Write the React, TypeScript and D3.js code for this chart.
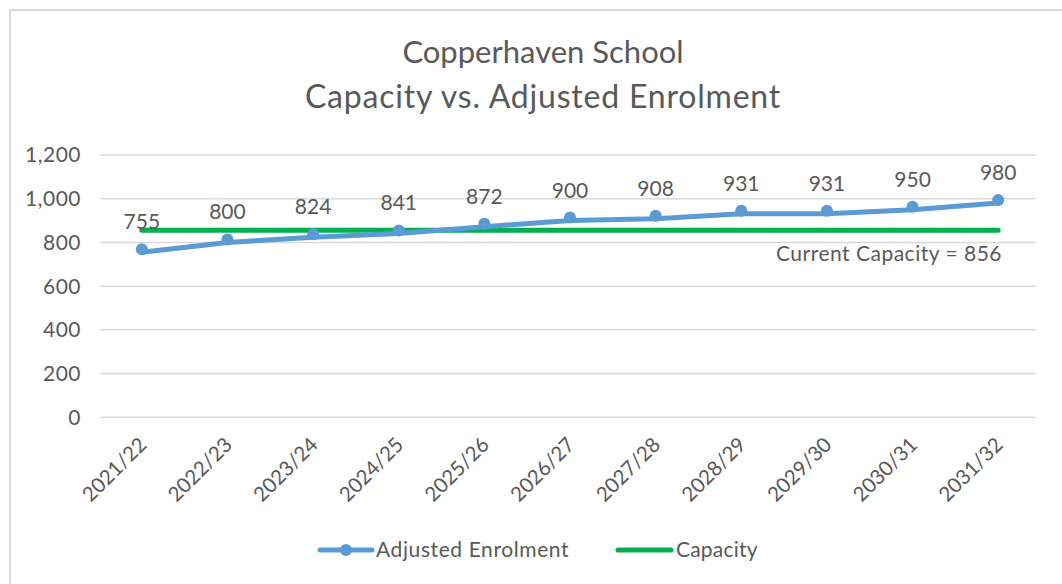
import React, { useEffect, useRef } from "react";
import * as d3 from "d3";

const categories = [
  "2021/22",
  "2022/23",
  "2023/24",
  "2024/25",
  "2025/26",
  "2026/27",
  "2027/28",
  "2028/29",
  "2029/30",
  "2030/31",
  "2031/32",
];
const enrolment = [755, 800, 824, 841, 872, 900, 908, 931, 931, 950, 980];
const capacity = [856, 856, 856, 856, 856, 856, 856, 856, 856, 856, 856];
const yTicks = [0, 200, 400, 600, 800, 1000, 1200];
const titleLines = ["Copperhaven School", "Capacity vs. Adjusted Enrolment"];
const capacityNote = "Current Capacity = 856";

const App = () => {
  const svgRef = useRef<SVGSVGElement>(null);

  useEffect(() => {
    const width = 1062;
    const height = 584;
    const font = "Lato, 'Open Sans', sans-serif";
    const textColor = "#595959";
    const blue = "#5b9bd5";
    const green = "#00b050";

    const svg = d3.select(svgRef.current);
    svg.selectAll("*").remove();
    svg.attr("width", width).attr("height", height);

    // chart frame (only top and left edges visible in the crop)
    svg
      .append("path")
      .attr("d", `M10,${height + 5} V10 H${width + 5}`)
      .attr("fill", "none")
      .attr("stroke", "#d9d9d9")
      .attr("stroke-width", 2);

    // title, two lines
    svg
      .append("g")
      .selectAll("text")
      .data(titleLines)
      .enter()
      .append("text")
      .attr("x", 543)
      .attr("y", (_, i) => 63 + i * 45)
      .attr("text-anchor", "middle")
      .attr("font-family", font)
      .attr("font-size", (_, i) => (i === 0 ? 31 : 32))
      .attr("letter-spacing", (_, i) => (i === 0 ? 0 : 0.8))
      .attr("fill", textColor)
      .text((d) => d);

    const plotLeft = 100;
    const plotRight = 1036;

    const x = d3
      .scaleBand()
      .domain(categories)
      .range([99, 1041])
      .padding(0);
    const cx = (c: string) => (x(c) as number) + x.bandwidth() / 2;

    const y = d3.scaleLinear().domain([0, 1200]).range([417.3, 155]);

    // gridlines
    svg
      .append("g")
      .selectAll("line")
      .data(yTicks)
      .enter()
      .append("line")
      .attr("x1", plotLeft)
      .attr("x2", plotRight)
      .attr("y1", (d) => y(d))
      .attr("y2", (d) => y(d))
      .attr("stroke", "#d9d9d9")
      .attr("stroke-width", 1.5);

    // y tick labels
    svg
      .append("g")
      .selectAll("text")
      .data(yTicks)
      .enter()
      .append("text")
      .attr("x", 81)
      .attr("y", (d) => y(d))
      .attr("dy", "0.35em")
      .attr("text-anchor", "end")
      .attr("font-family", font)
      .attr("font-size", 21)
      .attr("letter-spacing", 0.5)
      .attr("fill", textColor)
      .text((d) => d3.format(",")(d));

    // x tick labels, rotated
    svg
      .append("g")
      .selectAll("text")
      .data(categories)
      .enter()
      .append("text")
      .attr("transform", (d) => `translate(${cx(d) + 6},${446}) rotate(-45)`)
      .attr("text-anchor", "end")
      .attr("font-family", font)
      .attr("font-size", 20.5)
      .attr("fill", textColor)
      .text((d) => d);

    // capacity line
    const capLine = d3
      .line<number>()
      .x((_, i) => cx(categories[i]))
      .y((d) => y(d));
    svg
      .append("path")
      .datum(capacity)
      .attr("d", capLine)
      .attr("fill", "none")
      .attr("stroke", green)
      .attr("stroke-width", 5)
      .attr("stroke-linecap", "round");

    // enrolment line
    const enrLine = d3
      .line<number>()
      .x((_, i) => cx(categories[i]))
      .y((d) => y(d));
    svg
      .append("path")
      .datum(enrolment)
      .attr("d", enrLine)
      .attr("fill", "none")
      .attr("stroke", blue)
      .attr("stroke-width", 5)
      .attr("stroke-linecap", "round")
      .attr("stroke-linejoin", "round");

    svg
      .append("g")
      .selectAll("circle")
      .data(enrolment)
      .enter()
      .append("circle")
      .attr("cx", (_, i) => cx(categories[i]))
      .attr("cy", (d) => y(d) - 3)
      .attr("r", 6)
      .attr("fill", blue);

    // data labels
    svg
      .append("g")
      .selectAll("text")
      .data(enrolment)
      .enter()
      .append("text")
      .attr("x", (_, i) => cx(categories[i]))
      .attr("y", (d) => y(d) - 23)
      .attr("text-anchor", "middle")
      .attr("font-family", font)
      .attr("font-size", 21)
      .attr("fill", textColor)
      .text((d) => d);

    // capacity annotation
    svg
      .append("text")
      .attr("x", 1002)
      .attr("y", y(capacity[capacity.length - 1]) + 31)
      .attr("text-anchor", "end")
      .attr("font-family", font)
      .attr("font-size", 21)
      .attr("letter-spacing", 0.5)
      .attr("fill", textColor)
      .text(capacityNote);

    // legend
    const legend = svg.append("g").attr("transform", "translate(0,550)");
    legend
      .append("line")
      .attr("x1", 320)
      .attr("x2", 372)
      .attr("stroke", blue)
      .attr("stroke-width", 5)
      .attr("stroke-linecap", "round");
    legend.append("circle").attr("cx", 346).attr("r", 6).attr("fill", blue);
    legend
      .append("text")
      .attr("x", 376)
      .attr("dy", "0.35em")
      .attr("font-family", font)
      .attr("font-size", 21)
      .attr("letter-spacing", 0.6)
      .attr("fill", textColor)
      .text("Adjusted Enrolment");
    legend
      .append("line")
      .attr("x1", 618)
      .attr("x2", 671)
      .attr("stroke", green)
      .attr("stroke-width", 5)
      .attr("stroke-linecap", "round");
    legend
      .append("text")
      .attr("x", 676)
      .attr("dy", "0.35em")
      .attr("font-family", font)
      .attr("font-size", 21)
      .attr("letter-spacing", 0.2)
      .attr("fill", textColor)
      .text("Capacity");
  }, []);

  return (
    <svg
      ref={svgRef}
      style={{ position: "absolute", left: 0, top: 0, display: "block" }}
    ></svg>
  );
};

export default App;
